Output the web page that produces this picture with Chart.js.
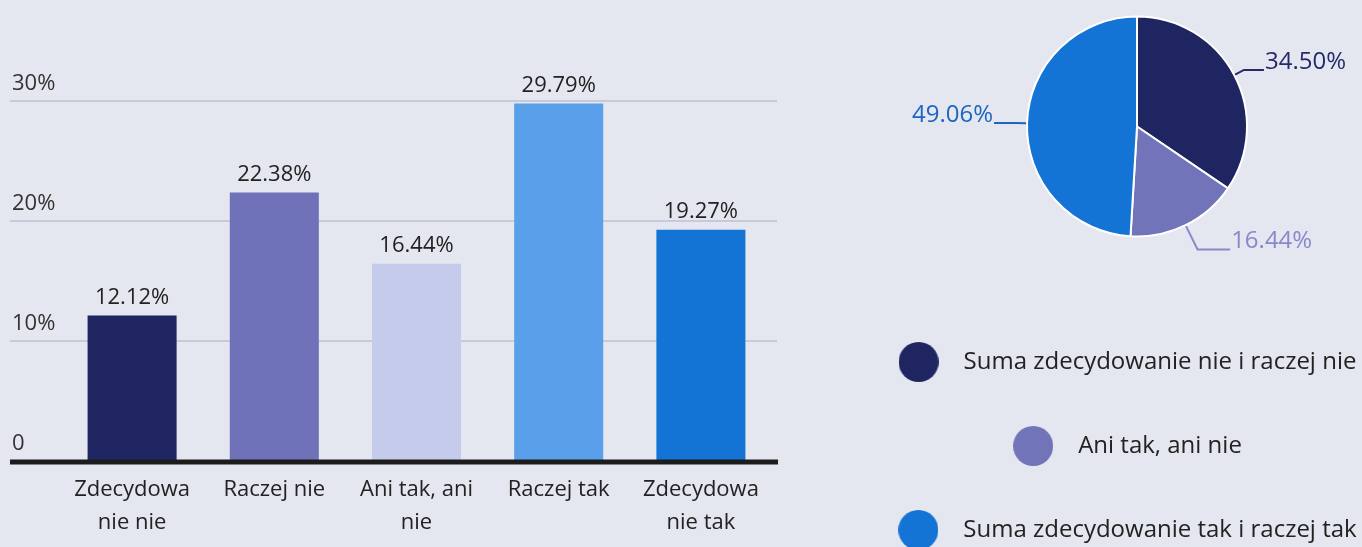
<!DOCTYPE html>
<html>
<head>
<meta charset="utf-8">
<script src="https://cdn.jsdelivr.net/npm/chart.js@4.4.1/dist/chart.umd.min.js"></script>
<style>
  html, body { margin: 0; padding: 0; background: #e4e6f0; overflow: hidden; }
  body { width: 1362px; height: 547px; position: relative; }
  #barBox { position: absolute; left: 0; top: 0; width: 790px; height: 547px; }
  #pieBox { position: absolute; left: 881px; top: -37px; width: 480px; height: 589px; }
</style>
</head>
<body>
<div id="barBox"><canvas id="bars"></canvas></div>
<div id="pieBox"><canvas id="pie"></canvas></div>
<script>
// bar chart data
const barLabels = [["Zdecydowa", "nie nie"], "Raczej nie", ["Ani tak, ani", "nie"], "Raczej tak", ["Zdecydowa", "nie tak"]];
const barValues = [12.12, 22.38, 16.44, 29.79, 19.27];
const barColors = ["#1f2561", "#6f71b9", "#c5cbea", "#5a9fe9", "#1474d5"];
const yTickValues = [0, 10, 20, 30];
const yTickLabels = ["0", "10%", "20%", "30%"];

// pie chart data
const pieLabels = ["Suma zdecydowanie nie i raczej nie", "Ani tak, ani nie", "Suma zdecydowanie tak i raczej tak"];
const pieValues = [34.50, 16.44, 49.06];
const pieColors = ["#1f2561", "#7274ba", "#1474d5"];
const pieTextColors = ["#252b6a", "#8789c8", "#1c66c2"];

Chart.defaults.font.family = "'Open Sans', sans-serif";

const fmt = v => v.toFixed(2) + "%";

// grid, tick labels, baseline and value labels for the bars
const barDecor = {
  id: "barDecor",
  beforeDatasetsDraw(chart) {
    const { ctx, chartArea, scales: { y } } = chart;
    ctx.save();
    ctx.font = "22px 'Open Sans'";
    ctx.fillStyle = "#333";
    ctx.textAlign = "left";
    ctx.textBaseline = "middle";
    yTickValues.forEach((v, i) => {
      const py = y.getPixelForValue(v);
      if (v !== 0) {
        ctx.strokeStyle = "#c7cad8";
        ctx.lineWidth = 2;
        ctx.beginPath();
        ctx.moveTo(chartArea.left - 51, py);
        ctx.lineTo(chartArea.right + 5, py);
        ctx.stroke();
      }
      ctx.fillText(yTickLabels[i], 12, py - 17);
    });
    ctx.restore();
  },
  afterDatasetsDraw(chart) {
    const { ctx, chartArea, scales: { y } } = chart;
    const meta = chart.getDatasetMeta(0);
    ctx.save();
    const y0 = y.getPixelForValue(0);
    ctx.strokeStyle = "#1c1c1c";
    ctx.lineWidth = 5;
    ctx.beginPath();
    ctx.moveTo(chartArea.left - 51, y0 + 1);
    ctx.lineTo(chartArea.right + 6, y0 + 1);
    ctx.stroke();

    ctx.font = "22px 'Open Sans'";
    ctx.fillStyle = "#222";
    ctx.textAlign = "center";
    ctx.textBaseline = "middle";
    meta.data.forEach((bar, i) => {
      ctx.fillText(fmt(barValues[i]), bar.x, bar.y - 18);
    });
    ctx.restore();
  }
};

new Chart(document.getElementById("bars"), {
  type: "bar",
  data: {
    labels: barLabels,
    datasets: [{
      data: barValues,
      backgroundColor: barColors,
      barPercentage: 0.626,
      categoryPercentage: 1
    }]
  },
  options: {
    responsive: true,
    maintainAspectRatio: false,
    animation: false,
    layout: { padding: { left: 61, right: 18, top: 41, bottom: 0 } },
    plugins: { legend: { display: false }, tooltip: { enabled: false } },
    scales: {
      x: {
        grid: { display: false, drawTicks: false },
        border: { display: false },
        ticks: { color: "#222", font: { size: 22, lineHeight: 1.5 }, padding: 12, maxRotation: 0, autoSkip: false },
        afterFit: s => { s.height = 86; }
      },
      y: { display: false, min: 0, max: 35 }
    }
  },
  plugins: [barDecor]
});

// round legend markers
const dot = color => {
  const c = document.createElement("canvas");
  c.width = 40; c.height = 40;
  const g = c.getContext("2d");
  g.fillStyle = color;
  g.beginPath();
  g.arc(20, 20, 20, 0, Math.PI * 2);
  g.fill();
  return c;
};

// percentage labels with leader lines
const pieLabelsPlugin = {
  id: "pieLabels",
  afterDatasetsDraw(chart) {
    const { ctx } = chart;
    const meta = chart.getDatasetMeta(0);
    ctx.save();
    ctx.font = "24px 'Open Sans'";
    ctx.lineWidth = 2;
    ctx.textBaseline = "middle";
    meta.data.forEach((arc, i) => {
      const { x, y, startAngle, endAngle, outerRadius } = arc.getProps(["x", "y", "startAngle", "endAngle", "outerRadius"], true);
      const mid = (startAngle + endAngle) / 2;
      const c = Math.cos(mid), s = Math.sin(mid);
      const right = c >= 0;
      const low = Math.max(0, s);
      const ext = outerRadius + 11 + 18 * low;
      const x0 = x + c * (outerRadius + 1), y0 = y + s * (outerRadius + 1);
      const x1 = x + c * ext, y1 = y + s * ext;
      const x2 = x1 + (right ? 20 + 14 * low : -22);
      ctx.strokeStyle = pieTextColors[i];
      ctx.beginPath();
      ctx.moveTo(x0, y0);
      ctx.lineTo(x1, y1);
      ctx.lineTo(x2, y1);
      ctx.stroke();
      ctx.fillStyle = pieTextColors[i];
      ctx.textAlign = right ? "left" : "right";
      ctx.fillText(fmt(pieValues[i]), x2 + (right ? 1 : -1), y1 - 8);
    });
    ctx.restore();
  }
};

new Chart(document.getElementById("pie"), {
  type: "pie",
  data: {
    labels: pieLabels,
    datasets: [{
      data: pieValues,
      backgroundColor: pieColors,
      borderColor: "#ffffff",
      borderWidth: 2,
      radius: 110
    }]
  },
  options: {
    responsive: true,
    maintainAspectRatio: false,
    animation: false,
    layout: { padding: 0 },
    plugins: {
      tooltip: { enabled: false },
      title: { display: true, text: " ", position: "left", padding: 0, font: { size: 32, lineHeight: 1 } },
      legend: {
        position: "bottom",
        labels: {
          usePointStyle: true,
          pointStyleWidth: 66,
          padding: 60,
          color: "#222",
          font: { size: 24 },
          generateLabels(chart) {
            return Chart.overrides.pie.plugins.legend.labels.generateLabels(chart).map((item, i) => {
              item.pointStyle = dot(pieColors[i]);
              return item;
            });
          }
        }
      }
    }
  },
  plugins: [pieLabelsPlugin]
});
</script>
</body>
</html>
